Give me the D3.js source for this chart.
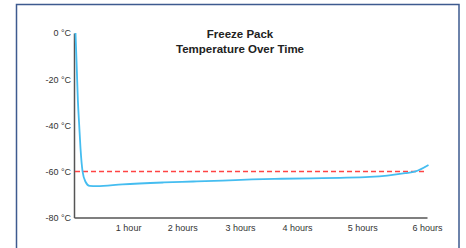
<!DOCTYPE html>
<html>
<head>
<meta charset="utf-8">
<script src="https://cdn.jsdelivr.net/npm/d3@7"></script>
<style>
  body { margin: 0; background: #fff; }
  svg { display: block; font-family: "Liberation Sans", Arial, sans-serif; }
</style>
</head>
<body>
<div id="chart"></div>
<script>
// readings: hours since start, temperature in °C
const hours = [0, 0.02, 0.04, 0.063, 0.085, 0.12, 0.17, 0.24, 0.36, 0.8, 1.5, 2, 2.5, 3, 3.5, 4, 4.5, 5, 5.3, 5.6, 5.78, 6]
const temps = [0, -14, -29, -40, -50, -60, -64.5, -66.3, -66.4, -65.6, -64.8, -64.4, -64, -63.5, -63.2, -63, -62.8, -62.4, -61.8, -60.8, -60, -57.2]

const threshold = -60
const yTicks = [0, -20, -40, -60, -80]
const xTickHours = [0.92, 1.84, 2.82, 3.79, 4.9, 6]
const xTickLabels = ['1 hour', '2 hours', '3 hours', '4 hours', '5 hours', '6 hours']

const title = ['Freeze Pack', 'Temperature Over Time']

const width = 466, height = 248

const svg = d3.select('#chart')
    .append('svg')
    .attr('width', width)
    .attr('height', height)

// frame
svg.append('rect')
    .attr('x', 16.5)
    .attr('y', 4.5)
    .attr('width', 442.5)
    .attr('height', 270)
    .attr('fill', 'none')
    .attr('stroke', '#3d5a8f')
    .attr('stroke-width', 1.5)

const x = d3.scaleLinear().domain([0, 6]).range([74, 427])
const y = d3.scaleLinear().domain([0, -80]).range([33, 217.5])

// title
svg.append('g')
    .selectAll('text')
    .data(title)
    .join('text')
    .attr('x', 240)
    .attr('y', (d, i) => 38 + i * 15)
    .attr('text-anchor', 'middle')
    .attr('font-size', 11.5)
    .attr('font-weight', 'bold')
    .attr('fill', '#222')
    .text(d => d)

// y axis
const gy = svg.append('g')
    .attr('transform', 'translate(74,0)')
    .call(d3.axisLeft(y)
        .tickValues(yTicks)
        .tickSize(0)
        .tickPadding(3)
        .tickFormat(d => d + ' °C'))
gy.select('.domain').attr('stroke', '#555').attr('stroke-width', 1.5)
gy.selectAll('text').attr('font-size', 9).attr('fill', '#333')

// x axis
const gx = svg.append('g')
    .attr('transform', 'translate(0,217.5)')
    .call(d3.axisBottom(x)
        .tickValues(xTickHours)
        .tickSize(0)
        .tickPadding(7)
        .tickFormat((d, i) => xTickLabels[i]))
gx.select('.domain').attr('stroke', '#555').attr('stroke-width', 1.5)
gx.selectAll('text').attr('font-size', 9).attr('fill', '#333')

// threshold line
svg.append('line')
    .attr('x1', x(0) + 1)
    .attr('x2', x(6))
    .attr('y1', Math.round(y(threshold)) + 0.5)
    .attr('y2', Math.round(y(threshold)) + 0.5)
    .attr('stroke', '#ff4444')
    .attr('stroke-width', 1.5)
    .attr('stroke-dasharray', '5,3')

// temperature curve
const line = d3.line()
    .x(d => x(d[0]))
    .y(d => y(d[1]))
    .curve(d3.curveMonotoneX)

svg.append('path')
    .datum(d3.zip(hours, temps))
    .attr('d', line)
    .attr('fill', 'none')
    .attr('stroke', '#45bdf0')
    .attr('stroke-width', 1.8)
    .attr('transform', 'translate(1.5,0)')
</script>
</body>
</html>
